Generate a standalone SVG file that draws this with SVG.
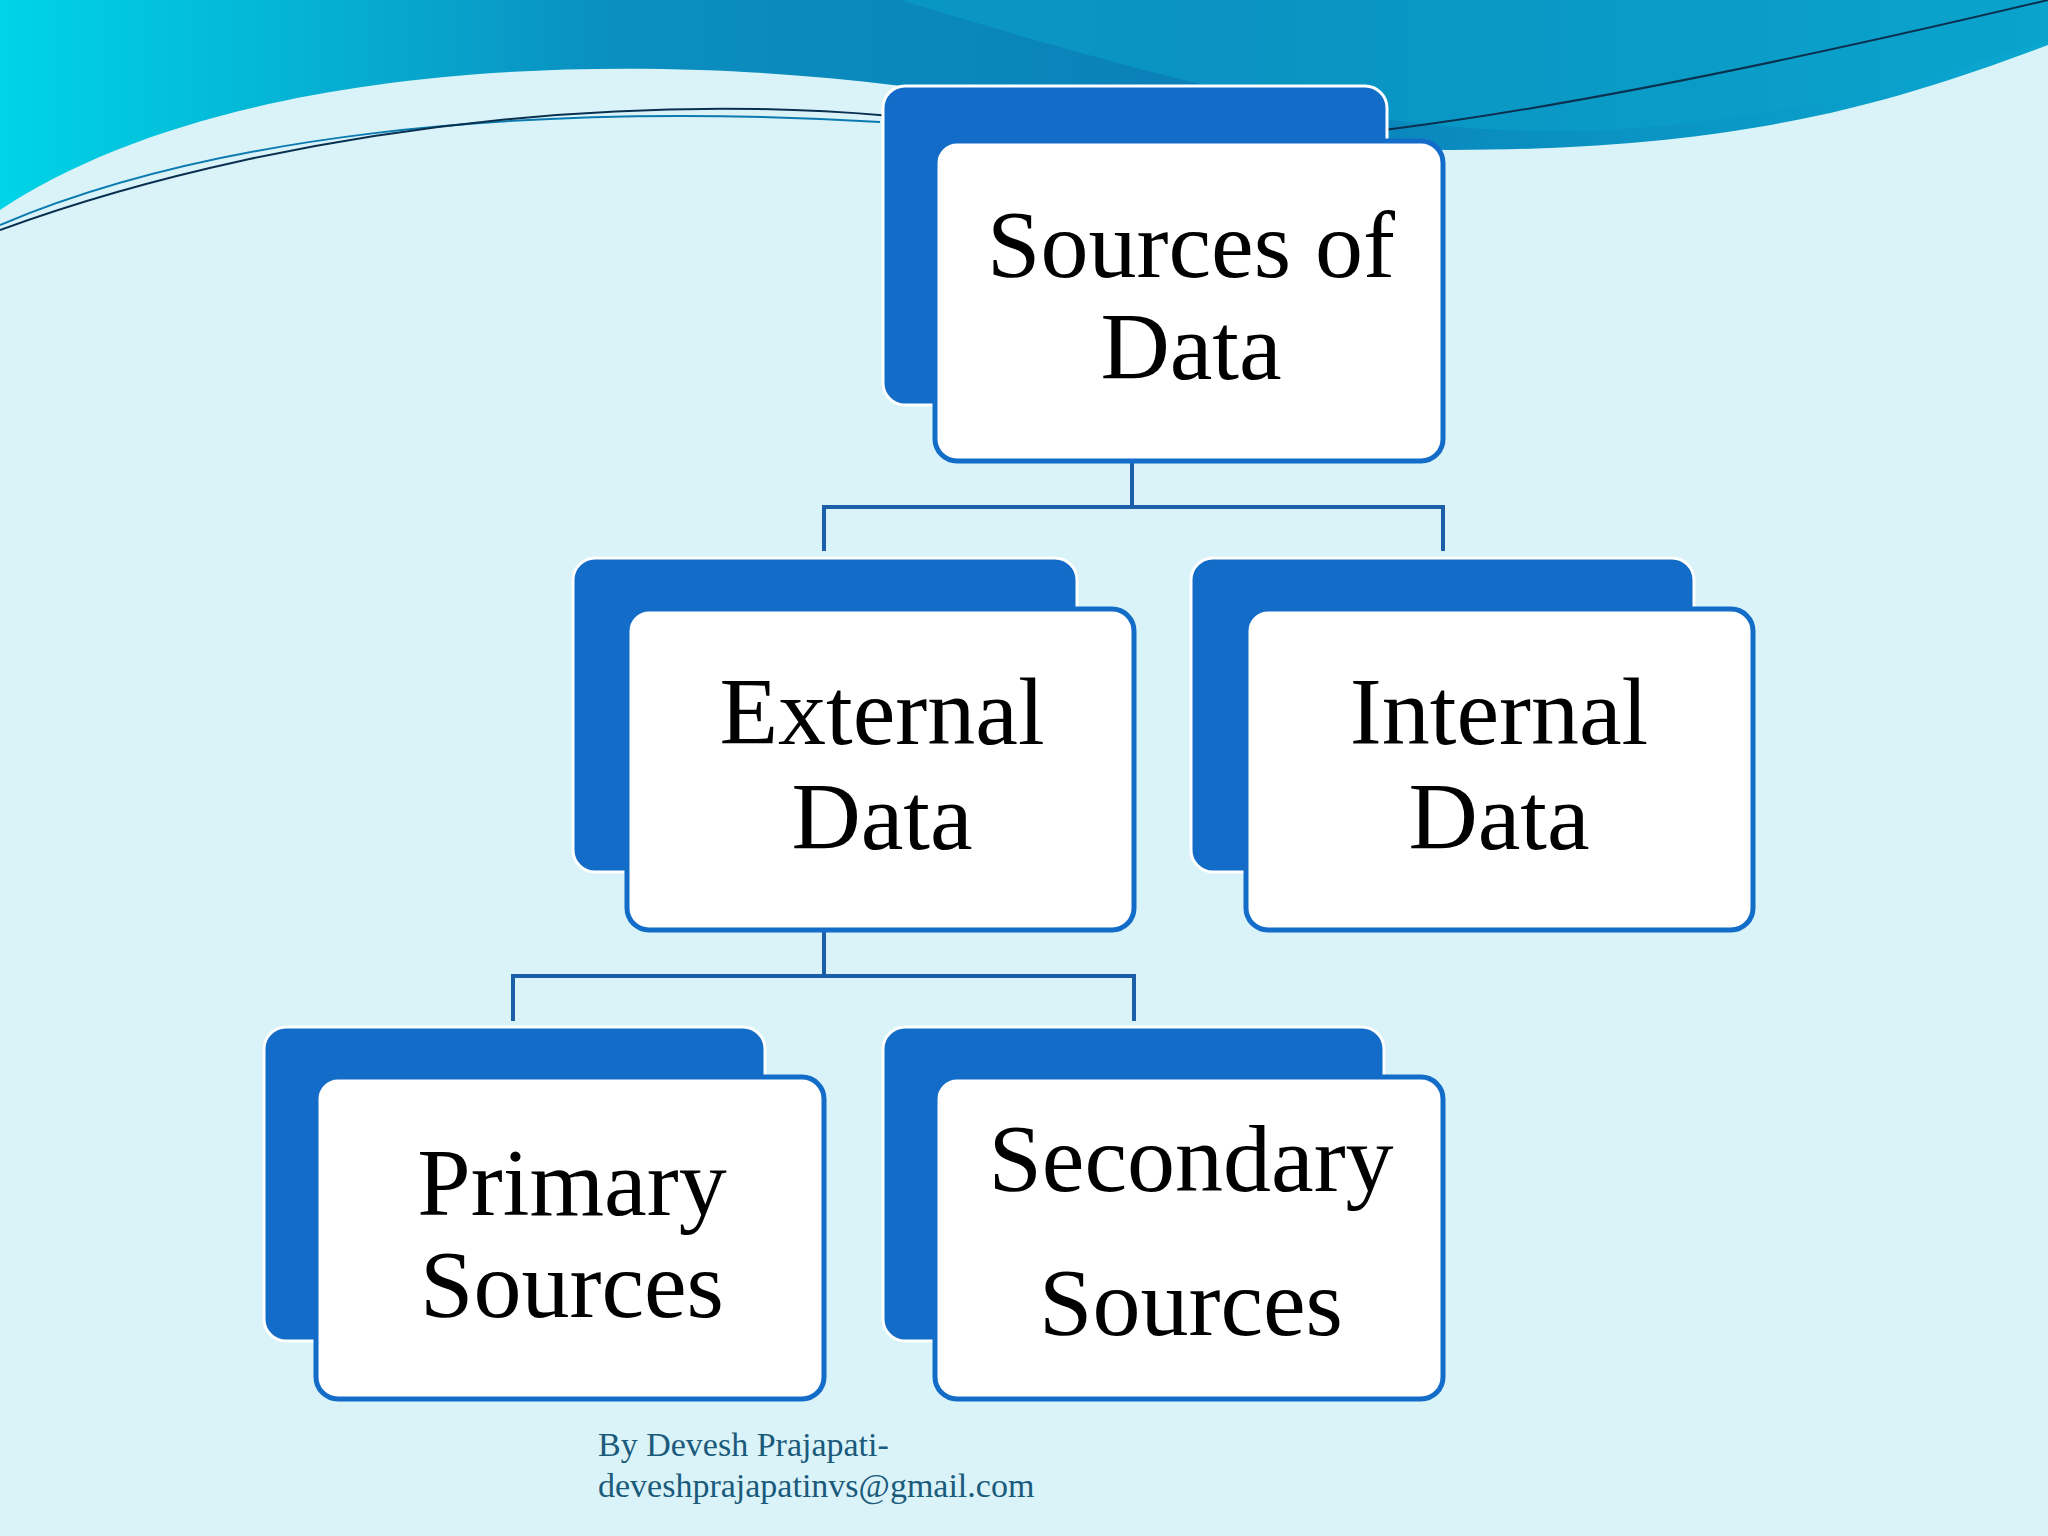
<svg xmlns="http://www.w3.org/2000/svg" width="2048" height="1536" viewBox="0 0 2048 1536">
<defs>
<linearGradient id="wave" x1="0" y1="0" x2="1" y2="0">
<stop offset="0" stop-color="#00d4e6"/><stop offset="0.3" stop-color="#0a8fc0"/><stop offset="0.6" stop-color="#0a80b8"/><stop offset="1" stop-color="#0aa8d0"/>
</linearGradient>
<style>
.back{fill:#136dc8;stroke:#ffffff;stroke-width:3}
.front{fill:#ffffff;stroke:#136dc8;stroke-width:5}
.t{font-family:"Liberation Serif",serif;font-size:96px;fill:#000;text-anchor:middle}
.c{fill:none;stroke:#1a5fa8;stroke-width:4}
.f{font-family:"Liberation Serif",serif;font-size:34px;fill:#1a5a7a}
</style>
</defs>
<rect width="2048" height="1536" fill="#d9f3f9"/>
<path d="M0 0 H2048 V45 C1900 100 1750 150 1450 150 C1200 150 1000 80 700 70 C400 60 150 110 0 210 Z" fill="url(#wave)"/>
<path d="M900 0 C1100 60 1300 120 1500 130 C1700 140 1900 90 2048 40 V0 Z" fill="#0aa0c8" opacity="0.6"/>
<path d="M0 225 C200 140 500 100 880 122" fill="none" stroke="#0a7ab0" stroke-width="2"/>
<path d="M0 230 C300 120 700 80 1000 130 C1200 170 1500 130 2048 0" fill="none" stroke="#0a3050" stroke-width="2"/>
<g id="connectors">
<path class="c" d="M1132 461 V507 M824 551 V507 H1443 V551"/>
<path class="c" d="M824 930 V976 M513 1021 V976 H1134 V1021"/>
</g>
<g id="n-sources">
<rect class="back" x="883" y="86" width="504" height="319" rx="22"/>
<rect class="front" x="935" y="141" width="508" height="320" rx="22"/>
<text class="t" x="1191" y="277">Sources of</text><text class="t" x="1191" y="379">Data</text>
</g>
<g id="n-external">
<rect class="back" x="573" y="558" width="504" height="314" rx="22"/>
<rect class="front" x="627" y="609" width="507" height="321" rx="22"/>
<text class="t" x="882" y="744">External</text><text class="t" x="882" y="849">Data</text>
</g>
<g id="n-internal">
<rect class="back" x="1191" y="558" width="503" height="314" rx="22"/>
<rect class="front" x="1246" y="609" width="507" height="321" rx="22"/>
<text class="t" x="1499" y="744">Internal</text><text class="t" x="1499" y="849">Data</text>
</g>
<g id="n-primary">
<rect class="back" x="264" y="1027" width="501" height="314" rx="22"/>
<rect class="front" x="316" y="1077" width="508" height="322" rx="22"/>
<text class="t" x="572" y="1215">Primary</text><text class="t" x="572" y="1317">Sources</text>
</g>
<g id="n-secondary">
<rect class="back" x="883" y="1027" width="501" height="314" rx="22"/>
<rect class="front" x="935" y="1077" width="508" height="322" rx="22"/>
<text class="t" x="1191" y="1191">Secondary</text><text class="t" x="1191" y="1335">Sources</text>
</g>
<text class="f" x="598" y="1456">By Devesh Prajapati-</text>
<text class="f" x="598" y="1497">deveshprajapatinvs@gmail.com</text>
</svg>
